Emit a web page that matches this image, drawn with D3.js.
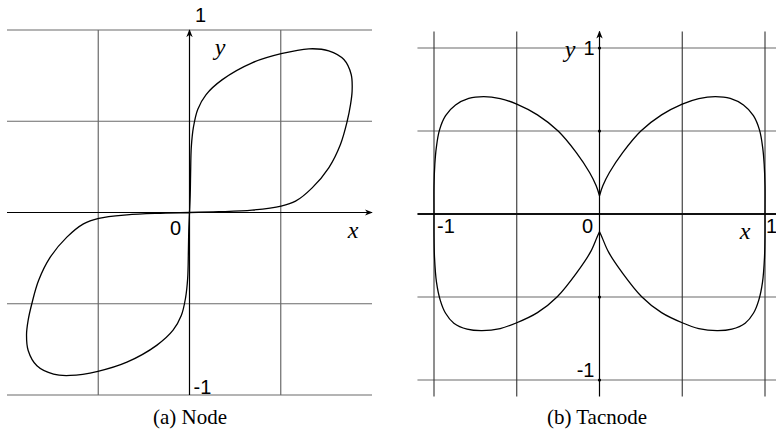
<!DOCTYPE html>
<html>
<head>
<meta charset="utf-8">
<script src="https://cdn.jsdelivr.net/npm/d3@7"></script>
<style>
  html, body { margin: 0; padding: 0; background: #fff; }
  svg { display: block; }
</style>
</head>
<body>
<svg id="chart" width="776" height="429"></svg>
<script>
// ---------- DATA ----------
const nodeGridX = [-0.5, 0.5];
const nodeGridY = [-1, -0.5, 0, 0.5, 1];
const tacGridX = [-1, -0.5, 0.5, 1];
const tacGridY = [-1, -0.5, 0.5, 1];

// Node curve: upper-right lobe, from origin up and back
const nodeLobeUpper = [
  [0, 0], [0.004, 0.1], [0.006, 0.21], [0.01, 0.36], [0.022, 0.47], [0.045, 0.565],
  [0.09, 0.645], [0.18, 0.728], [0.343, 0.82], [0.502, 0.87], [0.654, 0.897],
  [0.763, 0.886], [0.846, 0.838], [0.886, 0.756], [0.891, 0.665], [0.882, 0.59],
  [0.864, 0.5], [0.827, 0.373], [0.763, 0.245], [0.672, 0.135], [0.581, 0.062],
  [0.502, 0.035], [0.343, 0.013], [0.16, 0.004], [0, 0]
];
// Node curve: lower-left lobe
const nodeLobeLower = [
  [0, 0], [-0.004, -0.1], [-0.006, -0.21], [-0.01, -0.36], [-0.022, -0.47], [-0.045, -0.565],
  [-0.09, -0.645], [-0.18, -0.728], [-0.343, -0.82], [-0.502, -0.87], [-0.654, -0.893],
  [-0.745, -0.886], [-0.836, -0.84], [-0.884, -0.756], [-0.893, -0.67], [-0.884, -0.59],
  [-0.864, -0.5], [-0.827, -0.373], [-0.763, -0.245], [-0.672, -0.135], [-0.581, -0.062],
  [-0.497, -0.032], [-0.343, -0.013], [-0.16, -0.004], [0, 0]
];

// Tacnode curve: left loop (upper cusp -> (-1,0) -> lower cusp)
const tacLeft = [
  [0, 0.11], [-0.02, 0.17], [-0.06, 0.25], [-0.14, 0.37], [-0.25, 0.5], [-0.375, 0.597],
  [-0.5, 0.662], [-0.6, 0.695], [-0.7, 0.707], [-0.79, 0.696], [-0.87, 0.656],
  [-0.93, 0.592], [-0.967, 0.505], [-0.986, 0.4], [-0.995, 0.3], [-1, 0.17],
  [-1, 0],
  [-1, -0.12], [-0.997, -0.26], [-0.985, -0.41], [-0.962, -0.52], [-0.93, -0.598],
  [-0.88, -0.658], [-0.8, -0.694], [-0.71, -0.703], [-0.6, -0.69], [-0.5, -0.655],
  [-0.375, -0.594], [-0.255, -0.498], [-0.135, -0.35], [-0.055, -0.23], [-0.015, -0.14],
  [0, -0.107]
];
// Tacnode curve: right loop (upper cusp -> (1,0) -> lower cusp)
const tacRight = [
  [0, 0.11], [0.02, 0.17], [0.06, 0.25], [0.14, 0.37], [0.25, 0.5], [0.375, 0.597],
  [0.5, 0.662], [0.6, 0.695], [0.7, 0.707], [0.79, 0.696], [0.87, 0.656],
  [0.93, 0.592], [0.967, 0.505], [0.986, 0.4], [0.995, 0.3], [1, 0.17],
  [1, 0],
  [1, -0.12], [0.997, -0.26], [0.985, -0.41], [0.962, -0.52], [0.93, -0.598],
  [0.88, -0.658], [0.8, -0.694], [0.71, -0.703], [0.6, -0.69], [0.5, -0.655],
  [0.375, -0.594], [0.255, -0.498], [0.135, -0.35], [0.055, -0.23], [0.015, -0.14],
  [0, -0.107]
];

// Tick labels
const nodeLabels = ["1", "0", "-1"];
const tacLabels = ["1", "-1", "0", "1", "-1"];
const captions = ["(a) Node", "(b) Tacnode"];

// ---------- DRAW ----------
const svg = d3.select("#chart");
const defs = svg.append("defs");
defs.append("marker")
  .attr("id", "arrow").attr("viewBox", "0 0 10 10")
  .attr("refX", 9).attr("refY", 5)
  .attr("markerWidth", 8).attr("markerHeight", 8)
  .attr("markerUnits", "userSpaceOnUse")
  .attr("orient", "auto")
  .append("path").attr("d", "M0,1 L10,5 L0,9 L3,5 Z").attr("fill", "#000");

const sansFont = "'Liberation Sans', Arial, Helvetica, sans-serif";
const serifFont = "'Liberation Serif', 'Times New Roman', Times, serif";

// ---- Node panel ----
const xL = d3.scaleLinear().domain([-1, 1]).range([7, 372]);
const yL = d3.scaleLinear().domain([-1, 1]).range([395, 30]);
const gL = svg.append("g");

gL.selectAll("line.hg").data(nodeGridY).enter().append("line")
  .attr("x1", xL(-1)).attr("x2", xL(1))
  .attr("y1", d => yL(d)).attr("y2", d => yL(d))
  .attr("stroke", "#6a6a6a").attr("stroke-width", 1.2);
gL.selectAll("line.vg").data(nodeGridX).enter().append("line")
  .attr("x1", d => xL(d)).attr("x2", d => xL(d))
  .attr("y1", yL(-1)).attr("y2", yL(1))
  .attr("stroke", "#6a6a6a").attr("stroke-width", 1.2);
gL.append("line").attr("x1", xL(-1)).attr("x2", xL(1)).attr("y1", yL(0)).attr("y2", yL(0))
  .attr("stroke", "#000").attr("stroke-width", 1.2).attr("marker-end", "url(#arrow)");
gL.append("line").attr("x1", xL(0)).attr("x2", xL(0)).attr("y1", yL(-1)).attr("y2", yL(1))
  .attr("stroke", "#000").attr("stroke-width", 1.2).attr("marker-end", "url(#arrow)");

const lineL = d3.line().x(d => xL(d[0])).y(d => yL(d[1])).curve(d3.curveCatmullRom.alpha(0.5));
[nodeLobeUpper, nodeLobeLower].forEach(data => {
  gL.append("path").attr("d", lineL(data)).attr("fill", "none")
    .attr("stroke", "#000").attr("stroke-width", 1.3);
});

gL.append("text").attr("x", xL(0) + 11).attr("y", 22).attr("text-anchor", "middle")
  .attr("font-family", sansFont).attr("font-size", 20).text(nodeLabels[0]);
gL.append("text").attr("x", xL(0) - 14).attr("y", 235).attr("text-anchor", "middle")
  .attr("font-family", sansFont).attr("font-size", 20).text(nodeLabels[1]);
gL.append("text").attr("x", xL(0) + 4).attr("y", 394).attr("text-anchor", "start")
  .attr("font-family", sansFont).attr("font-size", 20).text(nodeLabels[2]);
gL.append("text").attr("x", 220).attr("y", 55).attr("text-anchor", "middle")
  .attr("font-family", serifFont).attr("font-style", "italic").attr("font-size", 24).text("y");
gL.append("text").attr("x", 353).attr("y", 238).attr("text-anchor", "middle")
  .attr("font-family", serifFont).attr("font-style", "italic").attr("font-size", 24).text("x");
gL.append("text").attr("x", 190).attr("y", 424).attr("text-anchor", "middle")
  .attr("font-family", serifFont).attr("font-size", 21).text(captions[0]);

// ---- Tacnode panel ----
const xR = d3.scaleLinear().domain([-1, 1]).range([434, 765]);
const yR = d3.scaleLinear().domain([-1, 1]).range([380, 48]);
const gR = svg.append("g");

gR.selectAll("line.hg").data(tacGridY).enter().append("line")
  .attr("x1", xR(-1.1)).attr("x2", xR(1.1))
  .attr("y1", d => yR(d)).attr("y2", d => yR(d))
  .attr("stroke", "#6a6a6a").attr("stroke-width", 1.2);
gR.selectAll("line.vg").data(tacGridX).enter().append("line")
  .attr("x1", d => xR(d)).attr("x2", d => xR(d))
  .attr("y1", yR(-1.1)).attr("y2", yR(1.1))
  .attr("stroke", "#333").attr("stroke-width", 1.1);
gR.append("line").attr("x1", xR(-1.1)).attr("x2", xR(1.13)).attr("y1", yR(0)).attr("y2", yR(0))
  .attr("stroke", "#111").attr("stroke-width", 2).attr("marker-end", "url(#arrow)");
gR.append("line").attr("x1", xR(0)).attr("x2", xR(0)).attr("y1", yR(-1.1)).attr("y2", yR(1.1))
  .attr("stroke", "#000").attr("stroke-width", 1.2).attr("marker-end", "url(#arrow)");
gR.selectAll("circle.tk").data([-1, -0.5, 0.5, 1]).enter().append("circle")
  .attr("cx", xR(0)).attr("cy", d => yR(d)).attr("r", 1.6).attr("fill", "#000");

const lineR = d3.line().x(d => xR(d[0])).y(d => yR(d[1])).curve(d3.curveCatmullRom.alpha(0.5));
[tacLeft, tacRight].forEach(data => {
  gR.append("path").attr("d", lineR(data)).attr("fill", "none")
    .attr("stroke", "#000").attr("stroke-width", 1.3);
});

gR.append("text").attr("x", 589).attr("y", 55).attr("text-anchor", "middle")
  .attr("font-family", sansFont).attr("font-size", 20).text(tacLabels[0]);
gR.append("text").attr("x", xR(-1) + 3).attr("y", 233).attr("text-anchor", "start")
  .attr("font-family", sansFont).attr("font-size", 20).text(tacLabels[1]);
gR.append("text").attr("x", xR(0) - 12).attr("y", 233).attr("text-anchor", "middle")
  .attr("font-family", sansFont).attr("font-size", 20).text(tacLabels[2]);
gR.append("text").attr("x", xR(1) + 1).attr("y", 233).attr("text-anchor", "start")
  .attr("font-family", sansFont).attr("font-size", 20).text(tacLabels[3]);
gR.append("text").attr("x", xR(0) - 5).attr("y", 377).attr("text-anchor", "end")
  .attr("font-family", sansFont).attr("font-size", 20).text(tacLabels[4]);
gR.append("text").attr("x", 570).attr("y", 57).attr("text-anchor", "middle")
  .attr("font-family", serifFont).attr("font-style", "italic").attr("font-size", 24).text("y");
gR.append("text").attr("x", 745).attr("y", 239).attr("text-anchor", "middle")
  .attr("font-family", serifFont).attr("font-style", "italic").attr("font-size", 24).text("x");
gR.append("text").attr("x", 597).attr("y", 424).attr("text-anchor", "middle")
  .attr("font-family", serifFont).attr("font-size", 21).text(captions[1]);
</script>
</body>
</html>
